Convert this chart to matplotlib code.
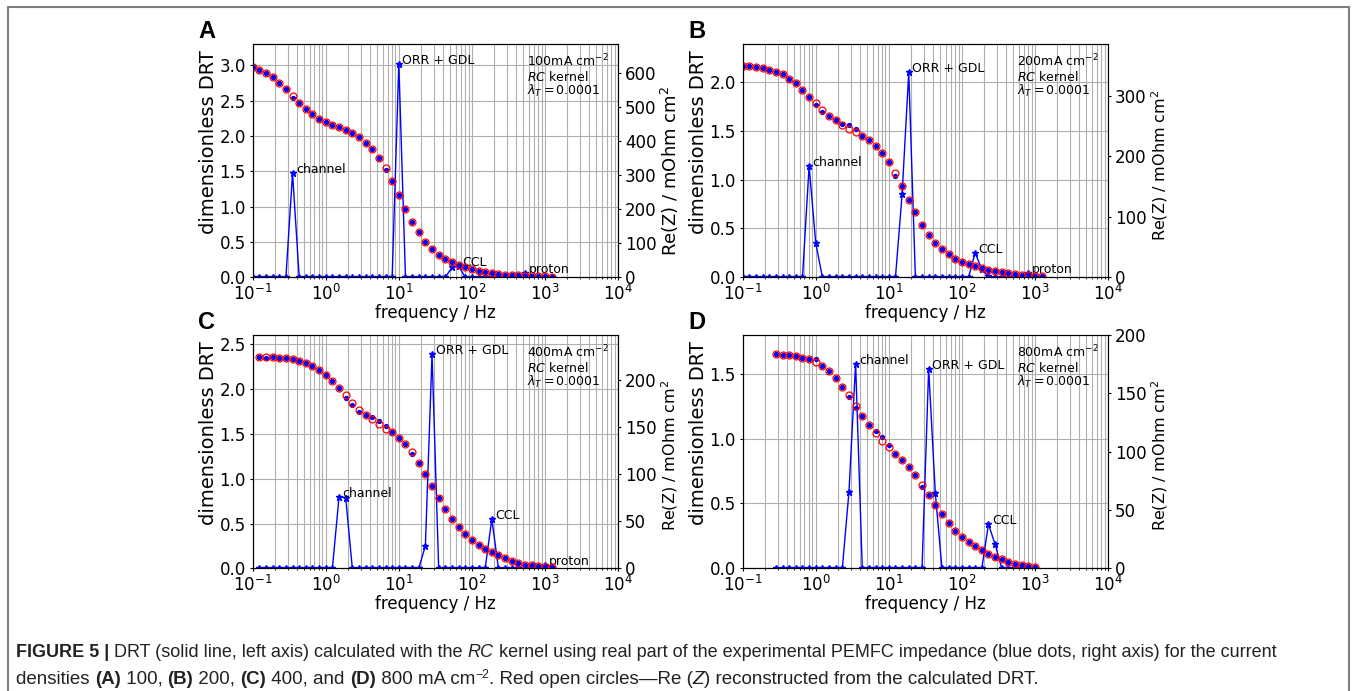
import matplotlib
matplotlib.use("Agg")
import matplotlib.pyplot as plt
from matplotlib.patches import Rectangle

# the original was drawn at a lower dpi, so ticks and pads are small here
plt.rcParams.update({
    "xtick.major.size": 2.5, "xtick.minor.size": 1.5, "xtick.major.pad": 2.5,
    "ytick.major.size": 2.5, "ytick.minor.size": 1.5, "ytick.major.pad": 2.5,
    "axes.labelpad": 2.5, "axes.linewidth": 0.8,
})

# frequency grid (Hz), 11 points per decade
freq = [0.1, 0.1233, 0.152, 0.1874, 0.231, 0.2848, 0.3511, 0.4329, 0.5337, 0.6579,
        0.8111, 1.0, 1.233, 1.52, 1.874, 2.31, 2.848, 3.511, 4.329, 5.337,
        6.579, 8.111, 10.0, 12.33, 15.2, 18.74, 23.1, 28.48, 35.11, 43.29,
        53.37, 65.79, 81.11, 100.0, 123.3, 152.0, 187.4, 231.0, 284.8, 351.1,
        432.9, 533.7, 657.9, 811.1, 1000.0, 1233.0]

# panel A, 100 mA/cm2 (all 46 frequencies)
fit_a = [616, 608, 598, 586, 571, 552, 532, 512, 493, 478, 463, 455, 447, 440, 432, 422,
         411, 395, 377, 351, 319, 282, 242, 200, 163, 132, 104, 83, 66, 53, 44, 36,
         29, 23, 19, 16, 13, 11, 8, 7, 6, 5, 4, 3, 3, 2]
exp_a = [616, 608, 598, 586, 571, 552, 525, 512, 493, 478, 463, 455, 447, 442, 432, 422,
         411, 395, 375, 351, 315, 282, 242, 200, 163, 132, 104, 83, 66, 53, 44, 36,
         29, 23, 19, 16, 13, 11, 8, 7, 6, 5, 4, 3, 3, 2]
drt_a = [0, 0, 0, 0, 0, 0, 1.47, 0, 0, 0, 0, 0, 0, 0, 0, 0,
         0, 0, 0, 0, 0, 0, 3.02, 0, 0, 0, 0, 0, 0, 0, 0.14, 0.16,
         0, 0, 0, 0, 0, 0, 0, 0, 0, 0.06, 0, 0, 0, 0]

# panel B, 200 mA/cm2 (all 46 frequencies)
fit_b = [349, 349, 347, 345, 342, 338, 335, 328, 320, 309, 298, 287, 276, 266, 259, 251,
         245, 239, 233, 227, 217, 205, 190, 172, 151, 128, 107, 86, 69, 56, 46, 38,
         31, 26, 22, 18, 15, 12, 10, 8, 7, 5.5, 4, 3.3, 2.8, 1.7]
exp_b = [349, 349, 347, 345, 342, 338, 335, 328, 320, 309, 298, 284, 272, 266, 259, 253,
         251, 245, 233, 227, 217, 205, 190, 167, 151, 128, 107, 86, 69, 56, 46, 38,
         31, 26, 22, 18, 15, 12, 10, 8, 7, 5.5, 4, 3.3, 2.8, 1.7]
drt_b = [0, 0, 0, 0, 0, 0, 0, 0, 0, 0, 1.14, 0.35, 0, 0, 0, 0,
         0, 0, 0, 0, 0, 0, 0, 0, 0.85, 2.10, 0, 0, 0, 0, 0, 0,
         0, 0, 0, 0.25, 0.08, 0.01, 0, 0, 0, 0, 0, 0.04, 0, 0]

# panel C, 400 mA/cm2 (frequencies 1..45)
fit_c = [224.7, 224.7, 224.4, 224.0, 223.3, 222.3, 220.8, 218.7, 215.5, 211.3, 206.0, 198.9,
         191.5, 183.7, 176.2, 168.8, 163.1, 158.2, 153.2, 148.6, 144.4, 138.4, 131.7, 123.2,
         112.2, 100.2, 87.4, 74.3, 62.6, 52.4, 44.2, 36.1, 30.1, 25.1, 20.9, 17.7,
         13.8, 11.0, 8.1, 6.0, 3.9, 3.2, 2.5, 1.8, 1.1]
exp_c = [224.7, 223.3, 224.4, 224.0, 223.3, 222.3, 220.8, 218.7, 215.5, 211.3, 206.0, 198.9,
         191.5, 181.2, 173.4, 166.0, 163.1, 161.0, 156.8, 151.5, 144.4, 138.4, 131.7, 121.0,
         112.2, 100.2, 87.4, 74.3, 62.6, 52.4, 44.2, 36.1, 30.1, 25.1, 20.9, 17.7,
         13.8, 11.0, 8.1, 6.0, 3.9, 3.2, 2.5, 1.8, 1.1]
drt_c = [0, 0, 0, 0, 0, 0, 0, 0, 0, 0, 0, 0, 0.80, 0.79, 0, 0,
         0, 0, 0, 0, 0, 0, 0, 0, 0, 0.25, 2.39, 0, 0, 0, 0, 0,
         0, 0, 0, 0.55, 0, 0, 0, 0, 0, 0, 0, 0.04, 0]

# panel D, 800 mA/cm2 (frequencies 5..44)
fit_d = [183.3, 183.0, 182.7, 181.8, 180.7, 179.3, 176.7, 173.5, 169.3, 163.5, 155.8, 148.4,
         139.5, 130.7, 122.7, 115.8, 109.2, 103.8, 98.3, 92.9, 86.6, 79.8, 71.8, 63.2,
         54.0, 46.3, 38.6, 32.3, 27.2, 22.9, 19.2, 15.7, 12.3, 9.7, 7.7, 5.7, 4.0, 2.9, 2.0, 1.1]
exp_d = [183.3, 183.0, 182.7, 181.8, 180.7, 179.3, 179.0, 173.5, 169.3, 163.5, 155.8, 146.7,
         137.2, 130.7, 122.7, 117.5, 112.9, 105.8, 98.3, 92.9, 86.6, 79.8, 70.0, 63.2,
         54.0, 46.3, 38.6, 32.3, 27.2, 22.9, 19.2, 15.7, 12.3, 9.7, 7.7, 5.7, 4.0, 2.9, 2.0, 1.1]
drt_d = [0, 0, 0, 0, 0, 0, 0, 0, 0, 0, 0, 0.59, 1.58, 0, 0, 0,
         0, 0, 0, 0, 0, 0, 0, 1.54, 0.58, 0, 0, 0, 0, 0, 0, 0,
         0.34, 0.185, 0, 0, 0, 0, 0, 0]

letters = ["A", "B", "C", "D"]
currents = ["100", "200", "400", "800"]
freq_slices = [(0, 46), (0, 46), (1, 46), (5, 45)]
fits = [fit_a, fit_b, fit_c, fit_d]
exps = [exp_a, exp_b, exp_c, exp_d]
drts = [drt_a, drt_b, drt_c, drt_d]
# (label, index into the panel's DRT) for the peak annotations
peak_labels = [
    [("channel", 6), ("ORR + GDL", 22), ("CCL", 31), ("proton", 41)],
    [("channel", 10), ("ORR + GDL", 25), ("CCL", 35), ("proton", 43)],
    [("channel", 12), ("ORR + GDL", 26), ("CCL", 35), ("proton", 43)],
    [("channel", 12), ("ORR + GDL", 23), ("CCL", 32)],
]
left_ylim = [3.3, 2.39, 2.604, 1.8]
right_ylim = [684, 385, 248, 200]
left_ticks = [[0, 0.5, 1.0, 1.5, 2.0, 2.5, 3.0], [0, 0.5, 1.0, 1.5, 2.0],
              [0, 0.5, 1.0, 1.5, 2.0, 2.5], [0, 0.5, 1.0, 1.5]]
right_ticks = [[0, 100, 200, 300, 400, 500, 600], [0, 100, 200, 300],
               [0, 50, 100, 150, 200], [0, 50, 100, 150, 200]]

W, H = 1354, 691
fig = plt.figure(figsize=(W / 100, H / 100), dpi=100)

# axes boxes in pixels: left, top
boxes = [(252.7, 44), (742.7, 44), (252.7, 335), (742.7, 335)]
aw, ah = 365.3, 233.3
# right label: font size, centre below the axes middle (px)
right_lab = [(13, 10), (11.5, 4.5), (11.5, 4), (11.5, 4)]

for i in range(4):
    lx, ty = boxes[i]
    ax = fig.add_axes([lx / W, 1 - (ty + ah) / H, aw / W, ah / H])
    s0, s1 = freq_slices[i]
    f = freq[s0:s1]

    ax.set_xscale("log")
    ax.set_xlim(0.1, 1e4)
    ax.set_ylim(0, left_ylim[i])
    ax.set_yticks(left_ticks[i])
    ax.grid(True, which="both", axis="x", color="#b0b0b0", lw=0.8)
    ax.grid(True, which="major", axis="y", color="#b0b0b0", lw=0.8)

    ax.plot(f, drts[i], "-*", color="blue", lw=1.0, ms=4.5)
    for name, idx in peak_labels[i]:
        ax.annotate(name, (f[idx], drts[i][idx]), xytext=(2.5, 0),
                    textcoords="offset points", fontsize=9, va="baseline")

    info = [currents[i] + "mA cm$^{-2}$", "$RC$ kernel", "$\\lambda_T = 0.0001$"]
    for j, line in enumerate(info):
        ax.text(0.752, 1 - (22.5 + 14.2 * j) / ah, line, transform=ax.transAxes,
                fontsize=9, va="baseline", ha="left")

    ax.set_xlabel("frequency / Hz", fontsize=12, labelpad=0)
    ax.set_ylabel("dimensionless DRT", fontsize=14)
    ax.yaxis.set_label_coords(-35 / aw, 0.581)
    ax.tick_params(labelsize=12)

    ax2 = ax.twinx()
    ax2.plot(f, exps[i], "o", color="blue", ms=2.8)
    ax2.plot(f, fits[i], "o", mfc="none", mec="red", ms=5, mew=0.9)
    ax2.set_ylim(0, right_ylim[i])
    ax2.set_yticks(right_ticks[i])
    ax2.tick_params(labelsize=12)
    fs, dn = right_lab[i]
    ax2.set_ylabel("Re(Z) / mOhm cm$^2$", fontsize=fs, va="center")
    ax2.yaxis.set_label_coords(1 + 52 / aw, 0.5 - dn / ah)

    fig.text((lx - 46) / W, 1 - (ty - 13) / H, letters[i], fontsize=17,
             fontweight="bold", family="Liberation Sans", ha="center", va="center")

# frame around the figure
fig.add_artist(Rectangle((8 / W, -0.1), (1349 - 8) / W, 1.1 - 7 / H,
                         transform=fig.transFigure, fill=False, ec="#808080", lw=1.5))

# caption with mixed styles
renderer = fig.canvas.get_renderer()


def rich_line(x_px, y_px, parts, size):
    x = x_px / W
    for txt, kw in parts:
        dy = kw.pop("dy", 0)
        fs = kw.pop("size", size)
        t = fig.text(x, 1 - (y_px - dy) / H, txt, fontsize=fs, family="Liberation Sans",
                     va="baseline", ha="left", color="#222222", **kw)
        x += t.get_window_extent(renderer=renderer).width / W


rich_line(16, 657, [
    ("FIGURE 5 | ", dict(fontweight="bold")),
    ("DRT (solid line, left axis) calculated with the ", {}),
    ("RC", dict(style="italic")),
    (" kernel using real part of the experimental PEMFC impedance (blue dots, right axis) for the current", {}),
], 13.0)
rich_line(16, 684, [
    ("densities ", {}),
    ("(A)", dict(fontweight="bold")),
    (" 100, ", {}),
    ("(B)", dict(fontweight="bold")),
    (" 200, ", {}),
    ("(C)", dict(fontweight="bold")),
    (" 400, and ", {}),
    ("(D)", dict(fontweight="bold")),
    (" 800 mA cm", {}),
    ("\u22122", dict(size=8.8, dy=6)),
    (". Red open circles\u2014Re (", {}),
    ("Z", dict(style="italic")),
    (") reconstructed from the calculated DRT.", {}),
], 13.5)

fig.savefig("out.png", dpi=100)
